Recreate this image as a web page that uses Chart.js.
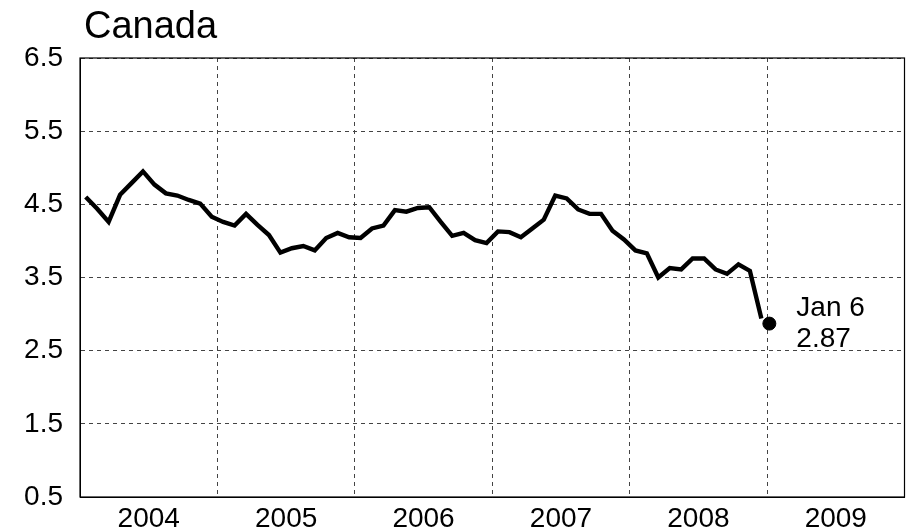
<!DOCTYPE html>
<html>
<head>
<meta charset="utf-8">
<script src="https://cdn.jsdelivr.net/npm/chart.js@4/dist/chart.umd.min.js"></script>
<style>
html,body{margin:0;padding:0;background:#fff;}
#wrap{width:912px;height:532px;}
</style>
</head>
<body>
<div id="wrap"><canvas id="c" width="912" height="532"></canvas></div>
<script>
// Monthly yields, Jan 2004 .. Dec 2008
const years = [2004, 2005, 2006, 2007, 2008];
const values2004 = [4.60, 4.44, 4.26, 4.63, 4.79, 4.95, 4.77, 4.65, 4.62, 4.56, 4.51, 4.33];
const values2005 = [4.26, 4.21, 4.37, 4.22, 4.08, 3.84, 3.90, 3.93, 3.87, 4.04, 4.11, 4.05];
const values2006 = [4.04, 4.17, 4.21, 4.42, 4.40, 4.45, 4.46, 4.26, 4.07, 4.11, 4.01, 3.97];
const values2007 = [4.13, 4.12, 4.05, 4.17, 4.29, 4.62, 4.58, 4.43, 4.37, 4.37, 4.14, 4.02];
const values2008 = [3.87, 3.83, 3.50, 3.63, 3.61, 3.76, 3.76, 3.61, 3.55, 3.68, 3.59, 2.94];
const latestDate = 2009 + 6 / 365;   // Jan 6, 2009
const latestValue = 2.87;
const latestLabel = ["Jan 6", "2.87"];
const titleText = "Canada";
const yTicks = [0.5, 1.5, 2.5, 3.5, 4.5, 5.5, 6.5];
const yearLabels = [2004, 2005, 2006, 2007, 2008, 2009];

const allValues = [values2004, values2005, values2006, values2007, values2008];
const linePoints = [];
allValues.forEach((arr, yi) => {
  arr.forEach((v, m) => linePoints.push({ x: years[yi] + (m + 0.5) / 12, y: v }));
});

const FONT = "'Liberation Sans', Arial, Helvetica, sans-serif";

const boxPlugin = {
  id: 'box',
  beforeDatasetsDraw(chart) {
    const { ctx, chartArea: a } = chart;
    ctx.save();
    ctx.strokeStyle = '#000';
    ctx.lineWidth = 1.2;
    ctx.setLineDash([]);
    ctx.strokeRect(a.left, a.top, a.right - a.left, a.bottom - a.top);
    ctx.restore();
  },
  afterDraw(chart) {
    const { ctx, chartArea: a, scales } = chart;
    ctx.save();
    ctx.fillStyle = '#000';
    ctx.textBaseline = 'alphabetic';
    ctx.textAlign = 'left';
    ctx.font = '38px ' + FONT;
    ctx.fillText(titleText, a.left + 4, 38);
    const px = scales.x.getPixelForValue(latestDate);
    const py = scales.y.getPixelForValue(latestValue);
    ctx.font = '28px ' + FONT;
    ctx.fillText(latestLabel[0], px + 27, py - 8);
    ctx.fillText(latestLabel[1], px + 27, py + 23);
    ctx.restore();
  }
};

new Chart(document.getElementById('c'), {
  type: 'line',
  data: {
    datasets: [
      {
        data: linePoints,
        borderColor: '#000',
        borderWidth: 4.4,
        pointRadius: 0,
        tension: 0,
        fill: false,
        borderJoinStyle: 'miter'
      },
      {
        type: 'scatter',
        data: [{ x: latestDate, y: latestValue }],
        backgroundColor: '#000',
        borderColor: '#000',
        pointRadius: 6.5,
        pointHoverRadius: 6.5
      }
    ]
  },
  options: {
    responsive: false,
    animation: false,
    devicePixelRatio: 1,
    layout: { padding: { top: 58, right: 4, left: 0, bottom: 0 } },
    plugins: { legend: { display: false }, tooltip: { enabled: false }, title: { display: false } },
    scales: {
      x: {
        type: 'linear',
        min: 2004,
        max: 2010,
        afterFit(scale) { scale.height = 35; scale.paddingLeft = 0; scale.paddingRight = 0; },
        afterBuildTicks(scale) {
          const t = [];
          for (let y = 2004; y <= 2010; y++) {
            t.push({ value: y });
            if (y < 2010) t.push({ value: y + 0.5 });
          }
          scale.ticks = t;
        },
        ticks: {
          autoSkip: false,
          maxRotation: 0,
          padding: 5,
          color: '#000',
          font: { family: FONT, size: 28 },
          callback(v) {
            if (Math.abs(v % 1 - 0.5) < 1e-6) {
              const yr = Math.floor(v);
              return yearLabels.includes(yr) ? String(yr) : '';
            }
            return '';
          }
        },
        grid: {
          drawTicks: false,
          lineWidth: 1,
          color(ctx) {
            const v = ctx.tick ? ctx.tick.value : 0;
            return Math.abs(v - Math.round(v)) < 1e-6 ? '#444' : 'rgba(0,0,0,0)';
          }
        },
        border: { display: true, color: '#000', width: 1, dash: [4, 4] }
      },
      y: {
        min: 0.5,
        max: 6.5,
        afterFit(scale) { scale.width = 80; scale.paddingTop = 0; scale.paddingBottom = 0; },
        afterBuildTicks(scale) { scale.ticks = yTicks.map(v => ({ value: v })); },
        ticks: {
          padding: 17,
          color: '#000',
          font: { family: FONT, size: 28 },
          callback(v) { return Number(v).toFixed(1); }
        },
        grid: { drawTicks: false, color: '#444', lineWidth: 1 },
        border: { display: true, color: '#000', width: 1, dash: [4, 4] }
      }
    }
  },
  plugins: [boxPlugin]
});
</script>
</body>
</html>
